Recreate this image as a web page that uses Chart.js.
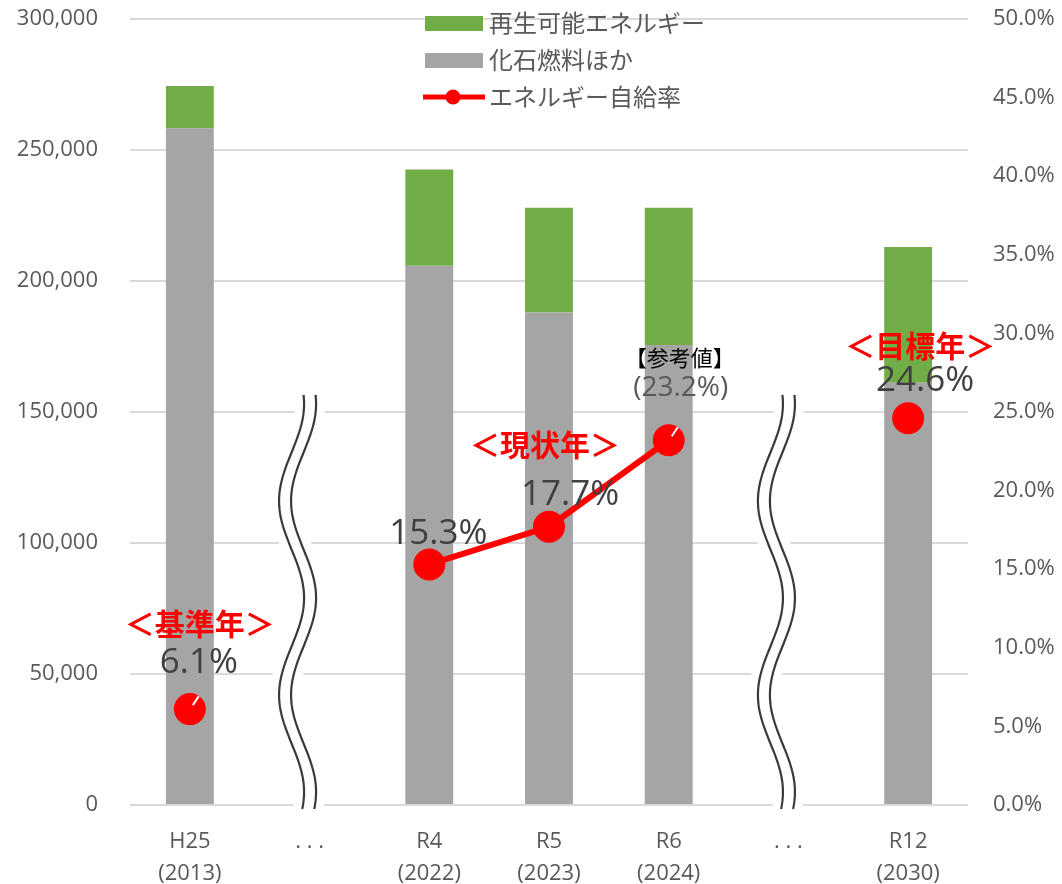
<!DOCTYPE html>
<html>
<head>
<meta charset="utf-8">
<script src="https://cdn.jsdelivr.net/npm/chart.js@4.4.1/dist/chart.umd.min.js"></script>
<style>
  body { margin: 0; background: #fff; }
  #wrap { width: 1062px; height: 884px; position: relative; }
</style>
</head>
<body>
<div id="wrap"><canvas id="myChart"></canvas></div>
<script>
// categories ('...' = omitted years, drawn with a break mark)
const years = [['H25', '(2013)'], ['. . .', ''], ['R4', '(2022)'], ['R5', '(2023)'], ['R6', '(2024)'], ['. . .', ''], ['R12', '(2030)']];
const fossil = [258300, null, 205800, 188000, 175600, null, 161200];   // 化石燃料ほか
const renewable = [16100, null, 36800, 40000, 52400, null, 51800];     // 再生可能エネルギー
const selfRate = [6.1, null, 15.3, 17.7, 23.2, null, 24.6];            // エネルギー自給率 (%)
const leftTicks = [0, 50000, 100000, 150000, 200000, 250000, 300000];
const rightTicks = [0, 5, 10, 15, 20, 25, 30, 35, 40, 45, 50];

const GREEN = '#70AD47';
const GRAY = '#A5A5A5';
const RED = '#FF0000';
const TXT = '#595959';
const NUM_FONT = "'Open Sans', 'Noto Sans CJK JP', sans-serif";
const JP_FONT = "'Noto Sans CJK JP', 'Noto Sans', sans-serif";

// labels placed near the rate points (dx, dy from the point centre)
const notes = [
    { i: 0, text: '＜基準年＞', dx: 10, dy: -86, font: 'bold 30px ' + JP_FONT, color: RED },
    { i: 3, text: '＜現状年＞', dx: -4, dy: -82, font: 'bold 30px ' + JP_FONT, color: RED },
    { i: 6, text: '＜目標年＞', dx: 12, dy: -73, font: 'bold 30px ' + JP_FONT, color: RED },
    { i: 4, text: '【参考値】', dx: 11, dy: -83, font: '22px ' + JP_FONT, color: '#000' }
];
const valueOffsets = { 0: [9, -46], 2: [9, -30], 3: [21, -32], 4: [12, -52], 6: [17, -37] };

const decorations = {
    id: 'decorations',
    beforeDatasetsDraw(chart) {
        const ctx = chart.ctx;
        const x = chart.scales.x;
        const y = chart.scales.y;
        [1, 5].forEach(function (idx) {
            const mid = x.getPixelForValue(idx) - 12;
            const top = y.getPixelForValue(156500);
            const bottom = y.bottom + 5;
            const path = function (shift) {
                ctx.beginPath();
                for (let py = top; py <= bottom; py += 2) {
                    const px = mid + shift - 12.5 * Math.cos(2 * Math.PI * (py - top - 106) / 194);
                    if (py === top) ctx.moveTo(px, py); else ctx.lineTo(px, py);
                }
            };
            ctx.save();
            path(0);
            ctx.strokeStyle = '#fff';
            ctx.lineWidth = 30;
            ctx.stroke();
            ctx.strokeStyle = '#3a3a3a';
            ctx.lineWidth = 2.2;
            path(-6); ctx.stroke();
            path(6); ctx.stroke();
            ctx.restore();
        });
    },
    afterDatasetsDraw(chart) {
        const ctx = chart.ctx;
        const pts = chart.getDatasetMeta(2).data;
        ctx.save();
        ctx.textAlign = 'center';
        ctx.textBaseline = 'middle';
        // leader ticks on the points
        ctx.strokeStyle = '#fff';
        ctx.lineWidth = 2;
        [0, 4].forEach(function (i) {
            ctx.beginPath();
            ctx.moveTo(pts[i].x + 3, pts[i].y - 4);
            ctx.lineTo(pts[i].x + 9, pts[i].y - 13);
            ctx.stroke();
        });
        selfRate.forEach(function (v, i) {
            if (v == null) return;
            const off = valueOffsets[i];
            if (i === 4) {
                ctx.font = '28px ' + NUM_FONT;
                ctx.fillStyle = TXT;
                ctx.fillText('(' + v.toFixed(1) + '%)', pts[i].x + off[0], pts[i].y + off[1]);
            } else {
                ctx.font = '35px ' + NUM_FONT;
                ctx.fillStyle = '#404040';
                ctx.fillText(v.toFixed(1) + '%', pts[i].x + off[0], pts[i].y + off[1]);
            }
        });
        notes.forEach(function (n) {
            ctx.font = n.font;
            ctx.fillStyle = n.color;
            ctx.fillText(n.text, pts[n.i].x + n.dx, pts[n.i].y + n.dy);
        });

        // legend inside the plot
        const lx = 425, ly = 23, gap = 37;
        ctx.textAlign = 'left';
        ctx.font = '24px ' + JP_FONT;
        ctx.fillStyle = GREEN;
        ctx.fillRect(lx, ly - 7, 58, 15);
        ctx.fillStyle = GRAY;
        ctx.fillRect(lx, ly + gap - 7, 58, 15);
        ctx.strokeStyle = RED;
        ctx.lineWidth = 5;
        ctx.beginPath();
        ctx.moveTo(lx - 2, ly + 2 * gap);
        ctx.lineTo(lx + 60, ly + 2 * gap);
        ctx.stroke();
        ctx.fillStyle = RED;
        ctx.beginPath();
        ctx.arc(lx + 28, ly + 2 * gap, 7.5, 0, Math.PI * 2);
        ctx.fill();
        ctx.fillStyle = TXT;
        [1, 0, 2].forEach(function (d, k) {
            ctx.fillText(chart.data.datasets[d].label, lx + 64, ly + k * gap);
        });
        ctx.restore();
    }
};

const data = {
    labels: years,
    datasets: [
        {
            type: 'bar',
            label: '化石燃料ほか',
            data: fossil,
            backgroundColor: GRAY,
            yAxisID: 'y',
            order: 2,
            barPercentage: 0.4,
            categoryPercentage: 1
        },
        {
            type: 'bar',
            label: '再生可能エネルギー',
            data: renewable,
            backgroundColor: GREEN,
            yAxisID: 'y',
            order: 2,
            barPercentage: 0.4,
            categoryPercentage: 1
        },
        {
            type: 'line',
            label: 'エネルギー自給率',
            data: selfRate,
            yAxisID: 'y1',
            borderColor: RED,
            backgroundColor: RED,
            borderWidth: 6,
            pointRadius: 13,
            pointHoverRadius: 13,
            spanGaps: false,
            clip: false,
            order: 0
        }
    ]
};

// y scales: fixed width, and top/bottom padding not inflated by tick padding
function fixVertical(w) {
    return function (scale) {
        scale.width = w;
        scale.paddingTop = 19;
        scale.paddingBottom = 0;
    };
}

const config = {
    data: data,
    options: {
        responsive: true,
        maintainAspectRatio: false,
        animation: false,
        layout: { autoPadding: false, padding: 0 },
        plugins: {
            legend: { display: false },
            tooltip: { enabled: false }
        },
        scales: {
            x: {
                stacked: true,
                grid: { display: false },
                border: { display: false },
                ticks: {
                    color: TXT,
                    font: { family: NUM_FONT, size: 22, lineHeight: 1.45 },
                    padding: 13,
                    maxRotation: 0,
                    autoSkip: false
                },
                afterFit(scale) { scale.height = 79; }
            },
            y: {
                stacked: true,
                min: 0,
                max: 300000,
                afterBuildTicks(scale) { scale.ticks = leftTicks.map(v => ({ value: v })); },
                grid: { color: '#D9D9D9', lineWidth: 2, drawTicks: false },
                border: { display: false },
                ticks: {
                    color: TXT,
                    font: { family: NUM_FONT, size: 22 },
                    padding: 32,
                    callback: v => v.toLocaleString('en-US')
                },
                afterFit: fixVertical(130)
            },
            y1: {
                position: 'right',
                min: 0,
                max: 50,
                afterBuildTicks(scale) { scale.ticks = rightTicks.map(v => ({ value: v })); },
                grid: { display: false, drawTicks: false },
                border: { display: false },
                ticks: {
                    color: TXT,
                    font: { family: NUM_FONT, size: 22 },
                    padding: 25,
                    callback: v => v.toFixed(1) + '%'
                },
                afterFit: fixVertical(94)
            }
        }
    },
    plugins: [decorations]
};

const myChart = new Chart(document.getElementById('myChart'), config);
</script>
</body>
</html>
